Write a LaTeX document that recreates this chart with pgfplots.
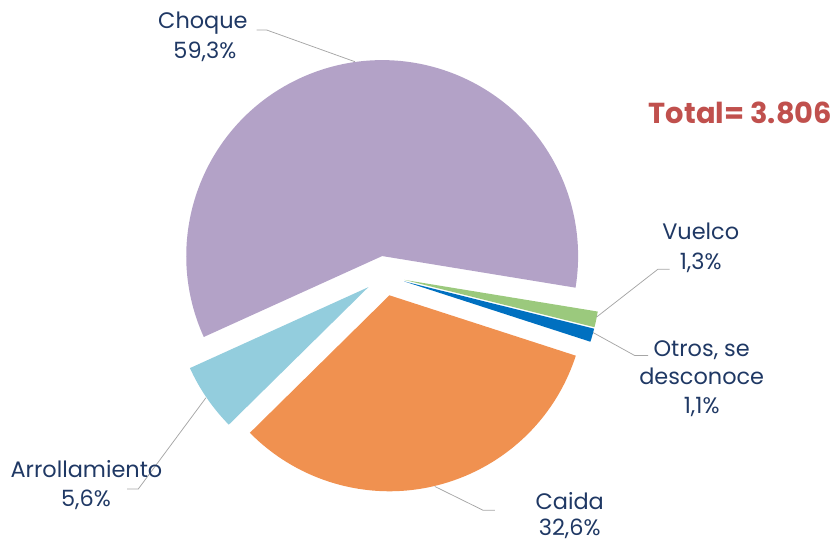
\documentclass[border=0pt]{standalone}
\usepackage{pgfplots}
\pgfplotsset{compat=1.18}
\usepackage{pgfplotstable}
\usepackage{fontspec}
\setmainfont{Poppins}
\definecolor{txt}{HTML}{1F3864}
\definecolor{tot}{HTML}{C0504D}
\definecolor{lead}{HTML}{A6A6A6}
\definecolor{slice0}{HTML}{B3A2C7}
\definecolor{slice1}{HTML}{9BC97D}
\definecolor{slice2}{HTML}{0070C0}
\definecolor{slice3}{HTML}{F09150}
\definecolor{slice4}{HTML}{93CDDD}
\pgfplotstableread[col sep=comma]{
label,value
Choque,59.3
Vuelco,1.3
Otros,1.1
Caida,32.6
Arrollamiento,5.6
}\slices
% geometry (in bp, 1 axis unit = 1 bp)
\def\cx{385}\def\cy{268}\def\explode{20}\def\rad{196}
\xdef\angnow{204.4}%
\def\total{99.9}%
\foreach \i in {0,...,4}{%
  \pgfplotstablegetelem{\i}{value}\of\slices
  \pgfmathsetmacro\spanang{\pgfplotsretval/\total*360}%
  \pgfmathsetmacro\endang{\angnow-\spanang}%
  \pgfmathsetmacro\midang{\angnow-\spanang/2}%
  \pgfmathsetmacro\apx{\cx+\explode*cos(\midang)}%
  \pgfmathsetmacro\apy{\cy+\explode*sin(\midang)}%
  \expandafter\xdef\csname sS\i\endcsname{\angnow}%
  \expandafter\xdef\csname sE\i\endcsname{\endang}%
  \expandafter\xdef\csname sX\i\endcsname{\apx}%
  \expandafter\xdef\csname sY\i\endcsname{\apy}%
  \xdef\angnow{\endang}%
}%
\begin{document}
\begin{tikzpicture}
\begin{axis}[
  width=832bp, height=544bp, scale only axis,
  xmin=0, xmax=832, ymin=0, ymax=544,
  enlargelimits=false, hide axis, clip=false]
\path (axis cs:0,0) rectangle (axis cs:832,544);
\pgfplotsinvokeforeach{0,...,4}{%
  \fill[slice#1] (axis cs:\csname sX#1\endcsname,\csname sY#1\endcsname)
    -- ++(\csname sS#1\endcsname:\rad bp)
    arc[start angle=\csname sS#1\endcsname, end angle=\csname sE#1\endcsname, radius=\rad bp]
    -- cycle;
}
% leader lines
\draw[lead, line width=0.75bp] (axis cs:355,482.3) -- (axis cs:266.7,514) -- (axis cs:256.7,514);
\draw[lead, line width=0.75bp] (axis cs:596.7,226.7) -- (axis cs:658.3,274.7) -- (axis cs:670,274.7);
\draw[lead, line width=0.75bp] (axis cs:593.3,211.3) -- (axis cs:635,188.3) -- (axis cs:648.3,188.3);
\draw[lead, line width=0.75bp] (axis cs:435,57.3) -- (axis cs:483.3,33.5) -- (axis cs:495,33.5);
\draw[lead, line width=0.75bp] (axis cs:206,146) -- (axis cs:138.3,54.7) -- (axis cs:127.3,54.7);
% labels
\begin{scope}[every node/.style={anchor=base, inner sep=0pt, text=txt, font=\fontsize{22.5}{27}\selectfont}]
\node at (axis cs:203,515) {Choque};
\node at (axis cs:205,485) {59,3\%};
\node at (axis cs:701,304) {Vuelco};
\node at (axis cs:701,274.7) {1,3\%};
\node at (axis cs:702,187.3) {Otros, se};
\node at (axis cs:702,159) {desconoce};
\node at (axis cs:702,130) {1,1\%};
\node at (axis cs:570,34) {Caida};
\node at (axis cs:570,8) {32,6\%};
\node at (axis cs:86.5,66.7) {Arrollamiento};
\node at (axis cs:86,37.3) {5,6\%};
\end{scope}
\node[anchor=base, inner sep=0pt, text=tot, font=\fontsize{29}{34}\selectfont\bfseries] at (axis cs:740.8,420) {Total= 3.806};
\end{axis}
\end{tikzpicture}
\end{document}
